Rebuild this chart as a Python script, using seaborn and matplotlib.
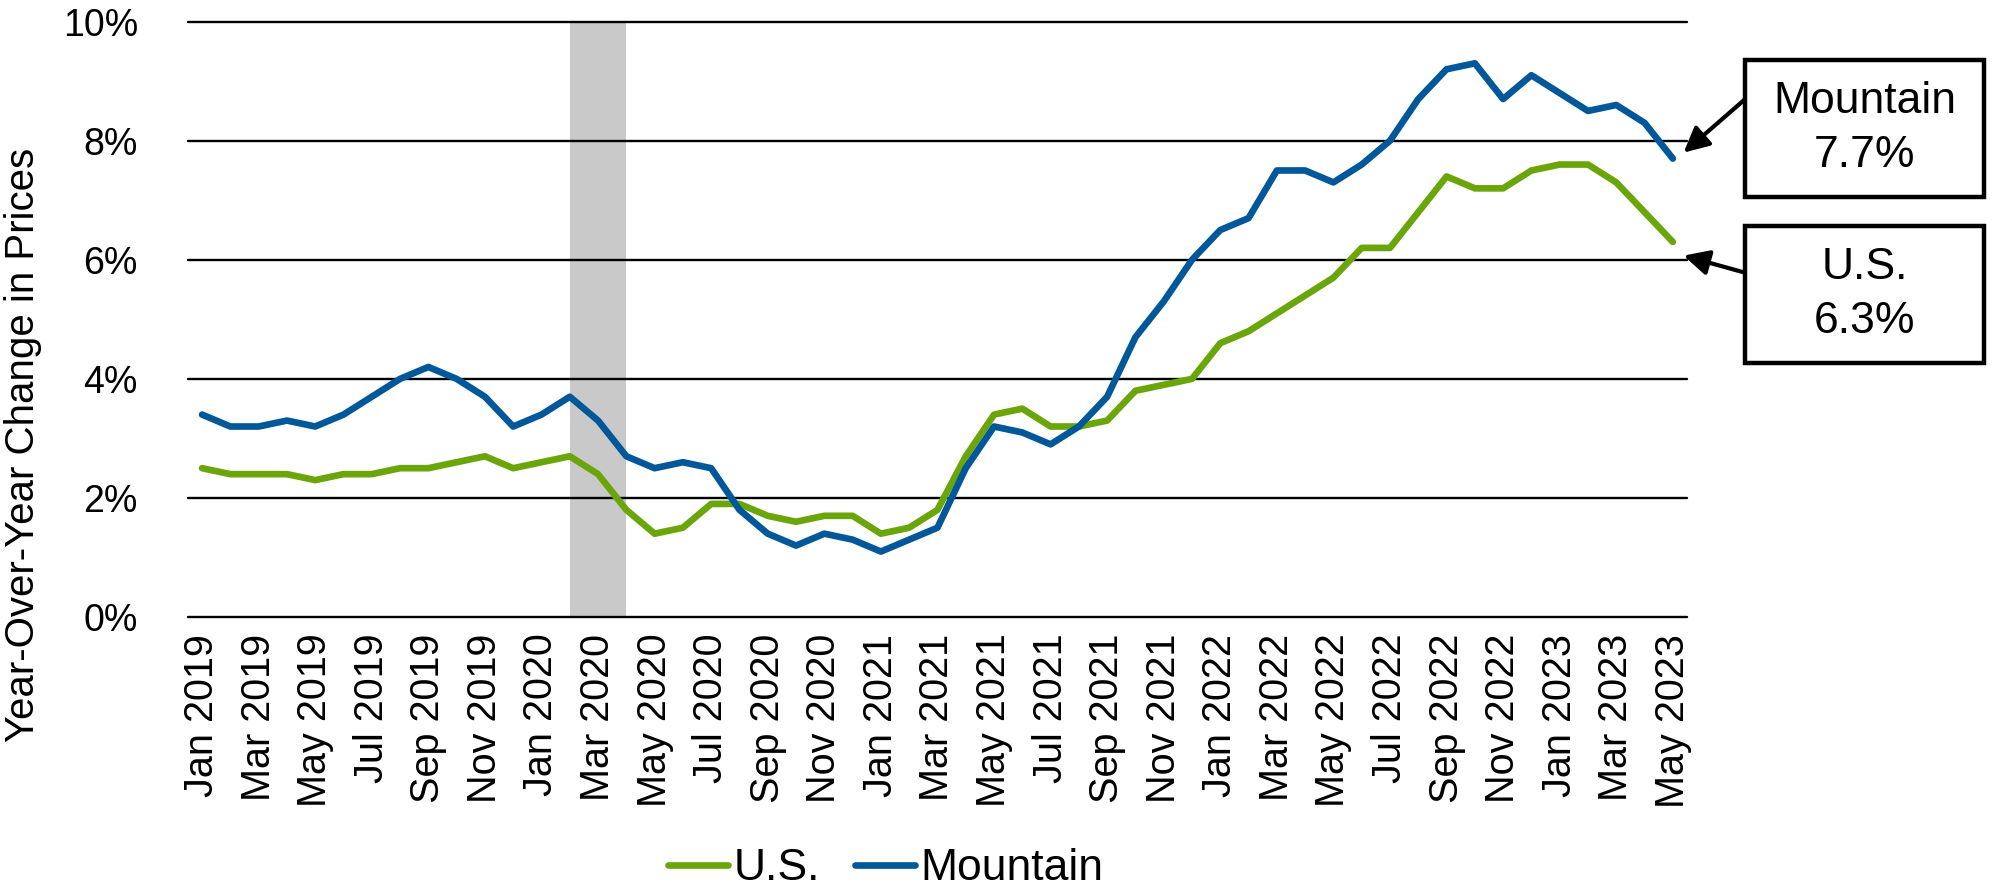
import matplotlib
matplotlib.use('Agg')
import matplotlib.pyplot as plt
import seaborn as sns
import pandas as pd
from matplotlib.patches import Rectangle
from matplotlib.lines import Line2D

verde = '#6AA509'
azul = '#00579A'

meses = ['Jan', 'Feb', 'Mar', 'Apr', 'May', 'Jun', 'Jul', 'Aug', 'Sep', 'Oct', 'Nov', 'Dec']
periodos = [f'{m} {a}' for a in range(2019, 2024) for m in meses][:53]

us = [2.5, 2.4, 2.4, 2.4, 2.3, 2.4, 2.4, 2.5, 2.5, 2.6, 2.7, 2.5,
      2.6, 2.7, 2.4, 1.8, 1.4, 1.5, 1.9, 1.9, 1.7, 1.6, 1.7, 1.7,
      1.4, 1.5, 1.8, 2.7, 3.4, 3.5, 3.2, 3.2, 3.3, 3.8, 3.9, 4.0,
      4.6, 4.8, 5.1, 5.4, 5.7, 6.2, 6.2, 6.8, 7.4, 7.2, 7.2, 7.5,
      7.6, 7.6, 7.3, 6.8, 6.3]
mountain = [3.4, 3.2, 3.2, 3.3, 3.2, 3.4, 3.7, 4.0, 4.2, 4.0, 3.7, 3.2,
            3.4, 3.7, 3.3, 2.7, 2.5, 2.6, 2.5, 1.8, 1.4, 1.2, 1.4, 1.3,
            1.1, 1.3, 1.5, 2.5, 3.2, 3.1, 2.9, 3.2, 3.7, 4.7, 5.3, 6.0,
            6.5, 6.7, 7.5, 7.5, 7.3, 7.6, 8.0, 8.7, 9.2, 9.3, 8.7, 9.1,
            8.8, 8.5, 8.6, 8.3, 7.7]

recessao = ['Feb 2020', 'Apr 2020']

df = pd.DataFrame({
    'pos': list(range(len(periodos))) * 2,
    'valor': us + mountain,
    'serie': ['U.S.'] * len(us) + ['Mountain'] * len(mountain),
})

sns.set_style('white')
plt.rcParams['font.family'] = ['Liberation Sans', 'DejaVu Sans']
plt.rcParams['text.color'] = 'black'
plt.rcParams['xtick.color'] = 'black'
plt.rcParams['ytick.color'] = 'black'

fig = plt.figure(figsize=(19.95, 8.94), dpi=100)
ax = fig.add_axes([0.0942, 0.3098, 0.7514, 0.666])

ax.axvspan(periodos.index(recessao[0]), periodos.index(recessao[1]), color='#C9C9C9', lw=0, zorder=0)
for v in range(0, 11, 2):
    ax.axhline(v, color='black', lw=1.7, zorder=1, clip_on=False)

sns.lineplot(data=df, x='pos', y='valor', hue='serie', palette={'U.S.': verde, 'Mountain': azul},
             linewidth=4.8, ax=ax, legend=False, zorder=3)

ax.set_xlim(-0.5, len(periodos) - 0.5)
ax.set_ylim(0, 10)
ax.set_yticks(range(0, 11, 2))
ax.set_yticklabels([f'{v}%' for v in range(0, 11, 2)], fontsize=27)
ax.set_xticks(range(0, len(periodos), 2))
ax.set_xticklabels(periodos[::2], rotation=90, fontsize=28.5)
ax.tick_params(axis='x', length=0, pad=12)
ax.tick_params(axis='y', length=0, pad=36)
ax.set_xlabel('')
ax.set_ylabel('')
for s in ax.spines.values():
    s.set_visible(False)

fig.text(0.0115, 0.502, 'Year-Over-Year Change in Prices', rotation=90, ha='center', va='center', fontsize=29)

# legenda
handles = [Line2D([], [], color=verde, lw=4.8, solid_capstyle='round'),
           Line2D([], [], color=azul, lw=4.8, solid_capstyle='round')]
fig.legend(handles, ['U.S.', 'Mountain'], loc='center', bbox_to_anchor=(0.444, 0.028), ncol=2,
           frameon=False, fontsize=32, handlelength=1.35, handletextpad=0.12, columnspacing=0.8)

# caixas de destaque
caixas = [('Mountain', mountain[-1], 0.8747, 0.780, 0.889, 7.8),
          ('U.S.', us[-1], 0.8747, 0.594, 0.695, 6.07)]
for nome, ultimo, x0, y0, y_seta, y_alvo in caixas:
    fig.patches.append(Rectangle((x0, y0), 0.1198, 0.153, transform=fig.transFigure,
                                 fill=False, edgecolor='black', lw=3.2))
    fig.text(x0 + 0.0599, y0 + 0.0765, f'{nome}\n{ultimo}%', ha='center', va='center',
             fontsize=32, linespacing=1.42)
    ax.annotate('', xy=(52.38, y_alvo), xycoords='data', xytext=(x0, y_seta), textcoords='figure fraction',
                arrowprops=dict(arrowstyle='-|>', color='black', lw=3, mutation_scale=38, shrinkA=0, shrinkB=0),
                annotation_clip=False)

plt.savefig('out.png', dpi=100)
